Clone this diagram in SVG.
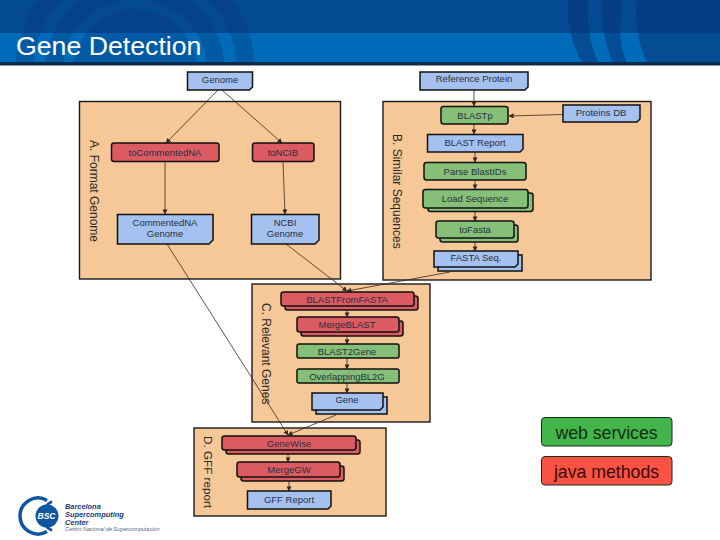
<svg xmlns="http://www.w3.org/2000/svg" width="720" height="540" viewBox="0 0 720 540">
<style>
text{font-family:"Liberation Sans",Arial,sans-serif;fill:#263040;font-size:9.5px;text-anchor:middle}
.cl{fill:#f6c797;stroke:#1a1a1a;stroke-width:1.4}
.lb{font-size:12px;text-anchor:start;fill:#2a2a2a}
.r,.g,.b{stroke:#111;stroke-width:1.5}
.r{fill:#dc5a62}.g{fill:#85bf78}.b{fill:#a4c1ef}
.e{fill:none;stroke:#33291f;stroke-width:.8;marker-end:url(#a)}
.lg{stroke:#1a2a1a;stroke-width:1}
.big{font-size:17.7px;fill:#122c12}
.logo{font-size:7.4px;font-weight:bold;font-style:italic;text-anchor:start;fill:#163a78}
</style>
<defs>
<marker id="a" viewBox="0 0 6 6" refX="5.500" refY="3" markerWidth="5" markerHeight="5" markerUnits="userSpaceOnUse" orient="auto"><path d="M0 0L6 3L0 6z" fill="#33291f"/></marker>
<clipPath id="hd"><rect width="720" height="62"/></clipPath>
<linearGradient id="edge" x1="0" y1="0" x2="0" y2="1"><stop offset="0" stop-color="#04325f"/><stop offset=".7" stop-color="#0b2440"/><stop offset="1" stop-color="#e4f5fa"/></linearGradient>
</defs>
<rect width="720" height="540" fill="#fff"/>
<g id="header">
<rect width="720" height="33" fill="#044a93"/>
<rect y="33" width="720" height="29" fill="#006cb9"/>
<g clip-path="url(#hd)">
<g fill="none" stroke="#082f70" opacity=".28">
<circle cx="135" cy="71" r="111" stroke-width="18"/>
<circle cx="135" cy="71" r="81" stroke-width="18"/>
<circle cx="135" cy="71" r="62" fill="#082f70" stroke="none"/>
</g>
<g fill="#082f70" opacity=".5">
<path d="M568 0C566 20 572 45 582 62H598C590 45 586 20 588 0Z"/>
<path d="M602 0C600 20 606 45 612 62H627C618 45 620 20 622 0Z"/>
<path d="M637 0C634 20 638 45 647 62H720V0Z"/>
</g>
</g>
<rect y="62" width="720" height="4" fill="url(#edge)"/>
<text x="16" y="55" style="font-size:26.700px;fill:#fff;text-anchor:start">Gene Detection</text>
</g>
<g id="clusters">
<g id="clusterA"><rect class="cl" x="79.500" y="101.500" width="261" height="177.500"/><text class="lb" transform="translate(89.500 140) rotate(90)">A. Format Genome</text></g>
<g id="clusterB"><rect class="cl" x="383" y="101.500" width="268" height="178.500"/><text class="lb" transform="translate(392.500 134) rotate(90)">B. Similar Sequences</text></g>
<g id="clusterC"><rect class="cl" x="252" y="284" width="178" height="138"/><text class="lb" transform="translate(262 303) rotate(90)">C. Relevant Genes</text></g>
<g id="clusterD"><rect class="cl" x="194" y="428" width="192" height="88"/><text class="lb" transform="translate(204 436) rotate(90)" style="font-size:11.700px">D. GFF report</text></g>
</g>
<g id="connectors">
<path class="e" d="M218 90L166 143"/>
<path class="e" d="M222 90L282 143"/>
<path class="e" d="M165 162V214"/>
<path class="e" d="M283 162L285 214"/>
<path class="e" d="M474 90V106"/>
<path class="e" d="M563 114.500L509 116"/>
<path class="e" d="M474 124V134"/>
<path class="e" d="M475 152V162"/>
<path class="e" d="M475 180V189"/>
<path class="e" d="M475 211V221"/>
<path class="e" d="M475 242V251"/>
<path class="e" d="M167 244L288 435"/>
<path class="e" d="M286 244L347 291"/>
<path class="e" d="M450 272L347 291"/>
<path class="e" d="M347 310V317"/>
<path class="e" d="M347 335V344"/>
<path class="e" d="M347 358V369"/>
<path class="e" d="M347 383V393"/>
<path class="e" d="M336 415L288 435"/>
<path class="e" d="M288 453V462"/>
<path class="e" d="M289 481V491"/>
</g>
<g id="Genome"><path class="b" d="M187.500 72H252.500V87L249.500 90H187.500Z"/><text x="220" y="83">Genome</text></g>
<g id="toCommentedNA"><rect class="r" x="111.500" y="143" width="107.500" height="18.500" rx="2.500"/><text x="165" y="155.500">toCommentedNA</text></g>
<g id="toNCIB"><rect class="r" x="252.500" y="143" width="61.500" height="18.500" rx="2.500"/><text x="283" y="155.500">toNCIB</text></g>
<g id="CommentedNAGenome"><path class="b" d="M117.500 214.500H213V240L209 244H117.500Z"/><text x="165" y="225.500">CommentedNA</text><text x="165" y="236.500">Genome</text></g>
<g id="NCBIGenome"><path class="b" d="M251.500 214.500H319V240L315 244H251.500Z"/><text x="285" y="225.500">NCBI</text><text x="285" y="236.500">Genome</text></g>
<g id="ReferenceProtein"><path class="b" d="M420 72H528V87L525 90H420Z"/><text x="474" y="82">Reference Protein</text></g>
<g id="BLASTp"><rect class="g" x="441" y="106.500" width="67" height="17.500" rx="2.500"/><text x="475" y="118.500">BLASTp</text></g>
<g id="ProteinsDB"><path class="b" d="M563 105H640V119L637 122H563Z"/><text x="601" y="115.500">Proteins DB</text></g>
<g id="BLASTReport"><path class="b" d="M427.500 134.500H523V149L520 152H427.500Z"/><text x="475" y="145.500">BLAST Report</text></g>
<g id="ParseBlastIDs"><rect class="g" x="424" y="162.500" width="102" height="17.500" rx="2.500"/><text x="475" y="174.500">Parse BlastIDs</text></g>
<g id="LoadSequence"><rect class="g" x="428" y="193" width="105" height="18.500" rx="2.500"/><rect class="g" x="423" y="189.500" width="105" height="18.500" rx="2.500"/><text x="475" y="201.500">Load Sequence</text></g>
<g id="toFasta"><rect class="g" x="440" y="225" width="78" height="17" rx="2.500"/><rect class="g" x="436" y="221" width="78" height="17" rx="2.500"/><text x="475" y="233">toFasta</text></g>
<g id="FASTASeq"><path class="b" d="M438 255H522V271H438Z"/><path class="b" d="M434 251H518V264L515 267H434Z"/><text x="476" y="261">FASTA Seq.</text></g>
<g id="BLASTFromFASTA"><rect class="r" x="285" y="296" width="133" height="14" rx="2.500"/><rect class="r" x="281" y="292" width="133" height="14" rx="2.500"/><text x="347" y="302.500">BLASTFromFASTA</text></g>
<g id="MergeBLAST"><rect class="r" x="301" y="321" width="102" height="15" rx="2.500"/><rect class="r" x="297" y="317" width="102" height="15" rx="2.500"/><text x="347" y="328">MergeBLAST</text></g>
<g id="BLAST2Gene"><rect class="g" x="297" y="344" width="102" height="14" rx="2"/><text x="347" y="354.500">BLAST2Gene</text></g>
<g id="OverlappingBL2G"><rect class="g" x="297" y="369" width="102" height="14" rx="2"/><text x="347" y="379.500">OverlappingBL2G</text></g>
<g id="Gene"><path class="b" d="M316 397H387V414H316Z"/><path class="b" d="M312 393H383V407L380 410H312Z"/><text x="347" y="403">Gene</text></g>
<g id="GeneWise"><rect class="r" x="226" y="440" width="134" height="14" rx="2.500"/><rect class="r" x="222" y="436" width="134" height="14" rx="2.500"/><text x="289" y="446.500">GeneWise</text></g>
<g id="MergeGW"><rect class="r" x="241" y="466" width="103" height="15" rx="2.500"/><rect class="r" x="237" y="462" width="103" height="15" rx="2.500"/><text x="289" y="473">MergeGW</text></g>
<g id="GFFReport"><path class="b" d="M247.500 491H331V506L328 509H247.500Z"/><text x="289" y="503">GFF Report</text></g>
<g id="legendWeb"><rect class="lg" x="541.500" y="417.500" width="130.500" height="28.500" rx="3.500" fill="#44b54a"/><text class="big" x="606.500" y="438.500">web services</text></g>
<g id="legendJava"><rect class="lg" x="541.500" y="456.500" width="130.500" height="28.500" rx="3.500" fill="#fb5243"/><text class="big" x="606.500" y="477.500" style="fill:#3a0a0a">java methods</text></g>
<g id="logo">
<circle cx="47" cy="516" r="11.500" fill="#10559f"/>
<path d="M47 500.400A18 18 0 1 0 47 531.600" fill="none" stroke="#10559f" stroke-width="3.500"/>
<path d="M52 501.500A16 16 0 0 0 52 530.500" fill="none" stroke="#10559f" stroke-width="3"/>
<text x="46.500" y="519" style="font-size:8.500px;font-weight:bold;font-style:italic;fill:#fff">BSC</text>
<text class="logo" x="65" y="509">Barcelona</text>
<text class="logo" x="65" y="517">Supercomputing</text>
<text class="logo" x="65" y="524.500">Center</text>
<text class="logo" x="65" y="531" style="font-size:5.500px;font-weight:normal;fill:#55657f">Centro Nacional de Supercomputación</text>
</g>
</svg>
